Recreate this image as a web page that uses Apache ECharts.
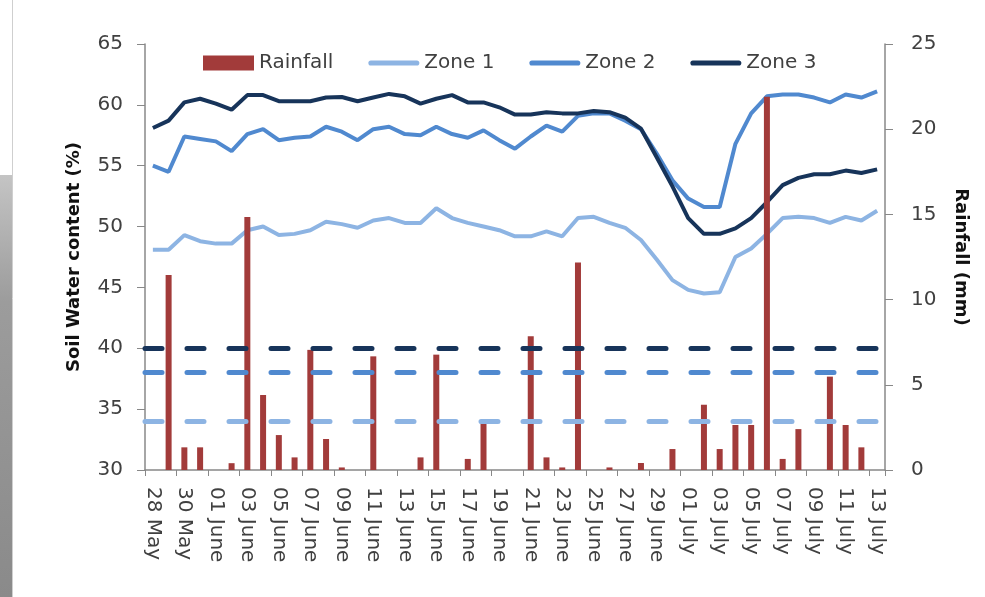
<!DOCTYPE html>
<html>
<head>
<meta charset="utf-8">
<script src="https://cdn.jsdelivr.net/npm/echarts@6/dist/echarts.min.js"></script>
<style>html,body{margin:0;padding:0;background:#fff;}#c{width:985px;height:597px;}</style>
</head>
<body>
<div id="c"></div>
<script>
const categories = ['28 May','29 May','30 May','31 May','01 June','02 June','03 June','04 June','05 June','06 June','07 June','08 June','09 June','10 June','11 June','12 June','13 June','14 June','15 June','16 June','17 June','18 June','19 June','20 June','21 June','22 June','23 June','24 June','25 June','26 June','27 June','28 June','29 June','30 June','01 July','02 July','03 July','04 July','05 July','06 July','07 July','08 July','09 July','10 July','11 July','12 July','13 July'];
const rainfall = [0, 11.45, 1.33, 1.33, 0, 0.4, 14.85, 4.4, 2.05, 0.74, 7.05, 1.82, 0.15, 0, 6.67, 0, 0, 0.74, 6.77, 0, 0.65, 2.76, 0, 0, 7.85, 0.74, 0.15, 12.17, 0, 0.15, 0, 0.41, 0, 1.23, 0, 3.83, 1.23, 2.64, 2.64, 21.9, 0.65, 2.4, 0, 5.48, 2.64, 1.33, 0];
const zone1 = [48.1, 48.1, 49.3, 48.8, 48.6, 48.6, 49.7, 50.0, 49.3, 49.4, 49.7, 50.4, 50.2, 49.9, 50.5, 50.7, 50.3, 50.3, 51.5, 50.7, 50.3, 50.0, 49.7, 49.2, 49.2, 49.6, 49.2, 50.7, 50.8, 50.3, 49.9, 48.9, 47.3, 45.6, 44.8, 44.5, 44.6, 47.5, 48.2, 49.4, 50.7, 50.8, 50.7, 50.3, 50.8, 50.5, 51.3];
const zone2 = [55.0, 54.5, 57.4, 57.2, 57.0, 56.2, 57.6, 58.0, 57.1, 57.3, 57.4, 58.2, 57.8, 57.1, 58.0, 58.2, 57.6, 57.5, 58.2, 57.6, 57.3, 57.9, 57.1, 56.4, 57.4, 58.3, 57.8, 59.1, 59.3, 59.3, 58.7, 58.0, 56.0, 53.8, 52.3, 51.6, 51.6, 56.8, 59.3, 60.7, 60.85, 60.85, 60.6, 60.2, 60.85, 60.6, 61.1];
const zone3 = [58.1, 58.7, 60.2, 60.5, 60.1, 59.6, 60.8, 60.8, 60.3, 60.3, 60.3, 60.6, 60.65, 60.3, 60.6, 60.9, 60.7, 60.1, 60.5, 60.8, 60.2, 60.2, 59.8, 59.2, 59.2, 59.4, 59.3, 59.3, 59.5, 59.4, 58.95, 58.05, 55.7, 53.3, 50.7, 49.4, 49.4, 49.85, 50.7, 52.0, 53.4, 54.0, 54.3, 54.3, 54.6, 54.4, 54.7];
const thresholds = { zone1: 34, zone2: 38, zone3: 40 };
const swcTicks = [30, 65, 5];
const rainTicks = [0, 25, 5];

const C_RAIN = '#A23B3A', C_Z1 = '#8DB4E3', C_Z2 = '#5089CF', C_Z3 = '#17345A';
const TXT = '#404040', AX = '#888888';
const FONT = 'DejaVu Sans';
const LINE_ICON = 'path://M2.5,0 L47.5,0 A2.5,2.5 0 0 1 47.5,5 L2.5,5 A2.5,2.5 0 0 1 2.5,0 Z';

function refLine(v, color) {
  return {
    silent: true, symbol: 'none', label: { show: false },
    lineStyle: { color: color, width: 5, type: [17, 25], cap: 'round' },
    data: [{ yAxis: v }]
  };
}

const chart = echarts.init(document.getElementById('c'), null, { renderer: 'canvas' });
chart.setOption({
  backgroundColor: '#fff',
  animation: false,
  textStyle: { fontFamily: FONT },
  graphic: [
    { type: 'rect', left: 0, top: 175, shape: { width: 12, height: 422 },
      style: { fill: new echarts.graphic.LinearGradient(0, 0, 0, 1, [{ offset: 0, color: '#c4c4c4' }, { offset: 0.3, color: '#9c9c9c' }, { offset: 1, color: '#8a8a8a' }]) }, silent: true },
    { type: 'line', shape: { x1: 12.5, y1: 0, x2: 12.5, y2: 597 }, style: { stroke: '#cfcfcf', lineWidth: 1 }, silent: true }
  ],
  legend: {
    top: 48, left: 198, itemGap: 35, itemWidth: 51, itemHeight: 15,
    textStyle: { color: TXT, fontSize: 20, fontFamily: FONT },
    data: [
      { name: 'Rainfall', icon: 'rect' },
      { name: 'Zone 1', icon: LINE_ICON },
      { name: 'Zone 2', icon: LINE_ICON },
      { name: 'Zone 3', icon: LINE_ICON }
    ]
  },
  grid: { left: 145, right: 100, top: 44, bottom: 127, containLabel: false },
  xAxis: {
    type: 'category', data: categories, boundaryGap: true,
    axisLine: { lineStyle: { color: AX, width: 1.5 } },
    axisTick: { show: true, interval: 1, length: 6, lineStyle: { color: AX } },
    axisLabel: { interval: 1, rotate: -90, margin: 17, color: TXT, fontSize: 20, fontFamily: FONT },
    splitLine: { show: false }
  },
  yAxis: [
    {
      type: 'value', min: swcTicks[0], max: swcTicks[1], interval: swcTicks[2],
      name: 'Soil Water content (%)', nameLocation: 'middle', nameRotate: 90, nameGap: 62,
      nameTextStyle: { color: '#111', fontSize: 18, fontWeight: 'bold', fontFamily: FONT },
      axisLine: { show: true, lineStyle: { color: AX, width: 1.5 } },
      axisTick: { show: true, length: 8, lineStyle: { color: AX } },
      axisLabel: { color: TXT, fontSize: 20, margin: 22, fontFamily: FONT },
      splitLine: { show: false }
    },
    {
      type: 'value', min: rainTicks[0], max: rainTicks[1], interval: rainTicks[2], position: 'right',
      name: 'Rainfall (mm)', nameLocation: 'middle', nameRotate: -90, nameGap: 67,
      nameTextStyle: { color: '#111', fontSize: 18, fontWeight: 'bold', fontFamily: FONT },
      axisLine: { show: true, lineStyle: { color: AX, width: 1.5 } },
      axisTick: { show: true, length: 8, lineStyle: { color: AX } },
      axisLabel: { color: TXT, fontSize: 20, margin: 26, fontFamily: FONT },
      splitLine: { show: false }
    }
  ],
  series: [
    {
      name: 'Rainfall', type: 'bar', yAxisIndex: 1, data: rainfall, barWidth: 6, z: 4,
      itemStyle: { color: C_RAIN }
    },
    {
      name: 'Zone 1', type: 'line', yAxisIndex: 0, data: zone1, symbol: 'none', z: 2,
      lineStyle: { color: C_Z1, width: 4 }, itemStyle: { color: C_Z1 },
      markLine: refLine(thresholds.zone1, C_Z1)
    },
    {
      name: 'Zone 2', type: 'line', yAxisIndex: 0, data: zone2, symbol: 'none', z: 2,
      lineStyle: { color: C_Z2, width: 4 }, itemStyle: { color: C_Z2 },
      markLine: refLine(thresholds.zone2, C_Z2)
    },
    {
      name: 'Zone 3', type: 'line', yAxisIndex: 0, data: zone3, symbol: 'none', z: 2,
      lineStyle: { color: C_Z3, width: 4 }, itemStyle: { color: C_Z3 },
      markLine: refLine(thresholds.zone3, C_Z3)
    }
  ]
});
</script>
</body>
</html>
